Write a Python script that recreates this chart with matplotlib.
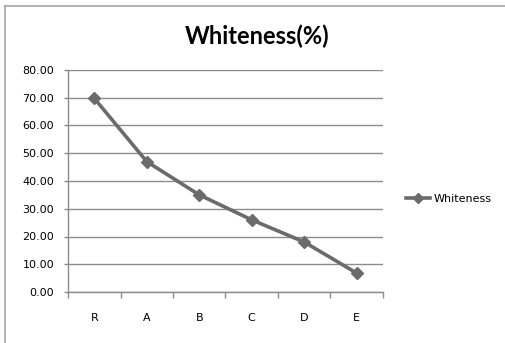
import matplotlib
matplotlib.use("Agg")
import matplotlib.pyplot as plt
from matplotlib.lines import Line2D
import numpy as np

categories = ["R", "A", "B", "C", "D", "E"]
whiteness = [69.8, 47.0, 35.0, 26.0, 18.0, 6.8]
yticks = [0, 10, 20, 30, 40, 50, 60, 70, 80]

W, H = 506, 343
fig = plt.figure(figsize=(W / 100, H / 100), dpi=100)
plt.rcParams["font.family"] = ["DejaVu Sans"]

# outer chart frame: only its left and top edges fall inside the picture
fx, fy = 5.5 / W, 1 - 5.5 / H
for xs, ys in [([fx, fx], [fy, -0.1]), ([fx, 1.1], [fy, fy])]:
    fig.add_artist(Line2D(xs, ys, transform=fig.transFigure,
                          color="#a6a6a6", linewidth=1.2))

ax = fig.add_axes([68 / W, 1 - 292 / H, (383 - 68) / W, (292 - 70) / H])
x = np.arange(len(categories))
ax.plot(x, whiteness, color="#6b6b6b", linewidth=2.6, marker="D",
        markersize=6, label="Whiteness", zorder=3)

ax.set_xlim(-0.5, len(categories) - 0.5)
ax.set_ylim(0, 80)
ax.set_yticks(yticks)
ax.set_yticklabels([f"{v:.2f}" for v in yticks], fontsize=8)
ax.yaxis.grid(True, color="#8c8c8c", linewidth=1)
ax.set_axisbelow(True)

ax.set_xticks(x)
ax.set_xticklabels(categories, fontsize=8)
ax.set_xticks(np.arange(len(categories) + 1) - 0.5, minor=True)
ax.tick_params(axis="x", which="major", length=0, pad=15)
ax.tick_params(axis="x", which="minor", length=4, color="#8c8c8c", width=1)
ax.tick_params(axis="y", length=3, color="#8c8c8c", width=1, pad=7)

for s in ["top", "right"]:
    ax.spines[s].set_visible(False)
for s in ["left", "bottom"]:
    ax.spines[s].set_color("#8c8c8c")
    ax.spines[s].set_linewidth(1)

fig.text(257 / W, 1 - 36 / H, "Whiteness(%)", ha="center", va="center",
         fontsize=17, fontweight="bold", family="Lato")

ax.legend(loc="center left", bbox_to_anchor=(396 / W, 1 - 199 / H),
          bbox_transform=fig.transFigure, frameon=False, fontsize=8,
          handlelength=2.2, handletextpad=0.3, markerscale=0.8)

fig.savefig("out.png", dpi=100)
